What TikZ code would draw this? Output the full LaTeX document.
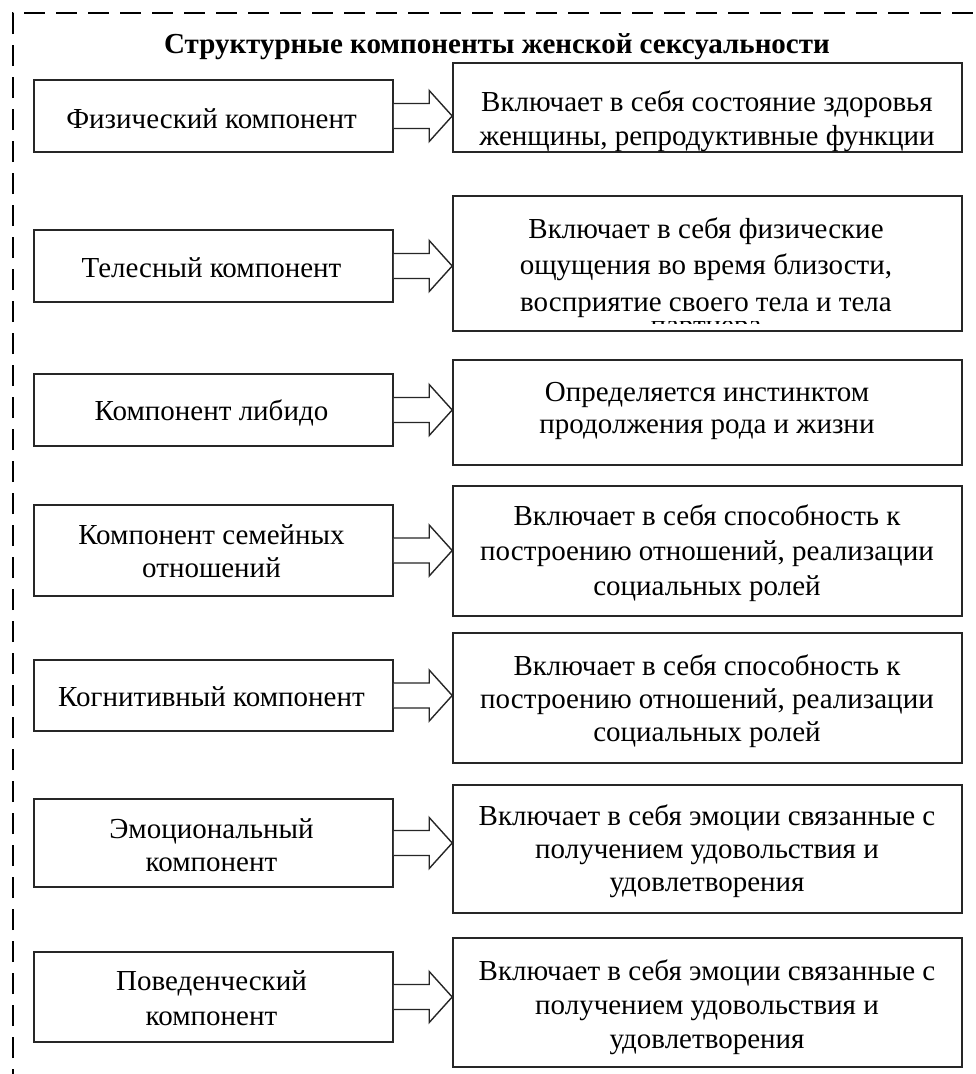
\documentclass[tikz,border=0pt]{standalone}
\usepackage{fontspec}
\setmainfont{Liberation Serif}
\usetikzlibrary{calc}
\tikzset{
  boxline/.style={draw=black!85, line width=1.6pt},
  lbox/.style={boxline, minimum width=359pt, inner sep=0pt},
  rbox/.style={boxline, minimum width=509pt, inner sep=0pt},
  txt/.style={anchor=base, align=center, inner sep=0pt, font=\fontsize{29}{34}\selectfont},
  ttl/.style={anchor=base, inner sep=0pt, font=\fontsize{29}{34}\selectfont\bfseries},
  fat/.style={draw=black!85, line width=1.4pt, fill=white, line join=miter},
  frame/.style={draw=black, line width=2.8pt, dash pattern=on 21pt off 11pt}
}
\newcommand\fatarrow[2]{%
  \draw[fat] ($(#1.east)+(0,-12.5)$) -- ($(#2.west|-#1.east)+(-23,-12.5)$) -- ++(0,-13)
    -- (#2.west|-#1.east) -- ($(#2.west|-#1.east)+(-23,25.5)$) -- ++(0,-13)
    -- ($(#1.east)+(0,12.5)$);}
\begin{document}
\begin{tikzpicture}[x=1pt,y=-1pt]
\useasboundingbox (0,0) rectangle (976,1074);
\begin{scope}
\clip (0,0) rectangle (976,1074);
\draw[frame] (13,1090) -- (13,13) -- (990,13);
\end{scope}
\node[ttl] (title) at (497,53) {Структурные компоненты женской сексуальности};
% left boxes
\node[lbox, minimum height=72pt] (l1) at (213.5,116) {};
\node[lbox, minimum height=72pt] (l2) at (213.5,266) {};
\node[lbox, minimum height=72pt] (l3) at (213.5,410) {};
\node[lbox, minimum height=91pt] (l4) at (213.5,550.5) {};
\node[lbox, minimum height=71pt] (l5) at (213.5,695.5) {};
\node[lbox, minimum height=88pt] (l6) at (213.5,843) {};
\node[lbox, minimum height=90pt] (l7) at (213.5,997) {};
% right boxes
\node[rbox, minimum height=89pt] (r1) at (707.5,107.5) {};
\node[rbox, minimum height=135pt] (r2) at (707.5,263.5) {};
\node[rbox, minimum height=105pt] (r3) at (707.5,412.5) {};
\node[rbox, minimum height=130pt] (r4) at (707.5,551) {};
\node[rbox, minimum height=130pt] (r5) at (707.5,698) {};
\node[rbox, minimum height=128pt] (r6) at (707.5,849) {};
\node[rbox, minimum height=129pt] (r7) at (707.5,1002.5) {};
% left texts (anchor = baseline of last line)
\node[txt] (lt1) at (211.5,128.3) {Физический компонент};
\node[txt] (lt2) at (211.5,277.3) {Телесный компонент};
\node[txt] (lt3) at (211.5,420.7) {Компонент либидо};
\node[txt, font=\fontsize{29}{33}\selectfont] (lt4) at (211.5,577) {Компонент семейных\\отношений};
\node[txt] (lt5) at (211.5,706.7) {Когнитивный компонент};
\node[txt, font=\fontsize{29}{33.4}\selectfont] (lt6) at (211.5,871.7) {Эмоциональный\\компонент};
\node[txt, font=\fontsize{29}{34.3}\selectfont] (lt7) at (211.5,1025) {Поведенческий\\компонент};
% right texts
\node[txt, font=\fontsize{29}{33.3}\selectfont] (rt1) at (707,145) {Включает в себя состояние здоровья\\женщины, репродуктивные функции};
\node[txt, font=\fontsize{29}{36.5}\selectfont] (rt2) at (706,311) {Включает в себя физические\\ощущения во время близости,\\восприятие своего тела и тела};
\begin{scope}
\clip (640,321) rectangle (770,323.6);
\node[txt] (rt2b) at (706,334.4) {партнера};
\end{scope}
\node[txt, font=\fontsize{29}{32}\selectfont] (rt3) at (707,433.7) {Определяется инстинктом\\продолжения рода и жизни};
\node[txt, font=\fontsize{29}{35}\selectfont] (rt4) at (707,595) {Включает в себя способность к\\построению отношений, реализации\\социальных ролей};
\node[txt, font=\fontsize{29}{33.4}\selectfont] (rt5) at (707,741.8) {Включает в себя способность к\\построению отношений, реализации\\социальных ролей};
\node[txt, font=\fontsize{29}{33.4}\selectfont] (rt6) at (707,891.8) {Включает в себя эмоции связанные с\\получением удовольствия и\\удовлетворения};
\node[txt, font=\fontsize{29}{34}\selectfont] (rt7) at (707,1048) {Включает в себя эмоции связанные с\\получением удовольствия и\\удовлетворения};
% arrows
\fatarrow{l1}{r1}
\fatarrow{l2}{r2}
\fatarrow{l3}{r3}
\fatarrow{l4}{r4}
\fatarrow{l5}{r5}
\fatarrow{l6}{r6}
\fatarrow{l7}{r7}
\end{tikzpicture}
\end{document}
